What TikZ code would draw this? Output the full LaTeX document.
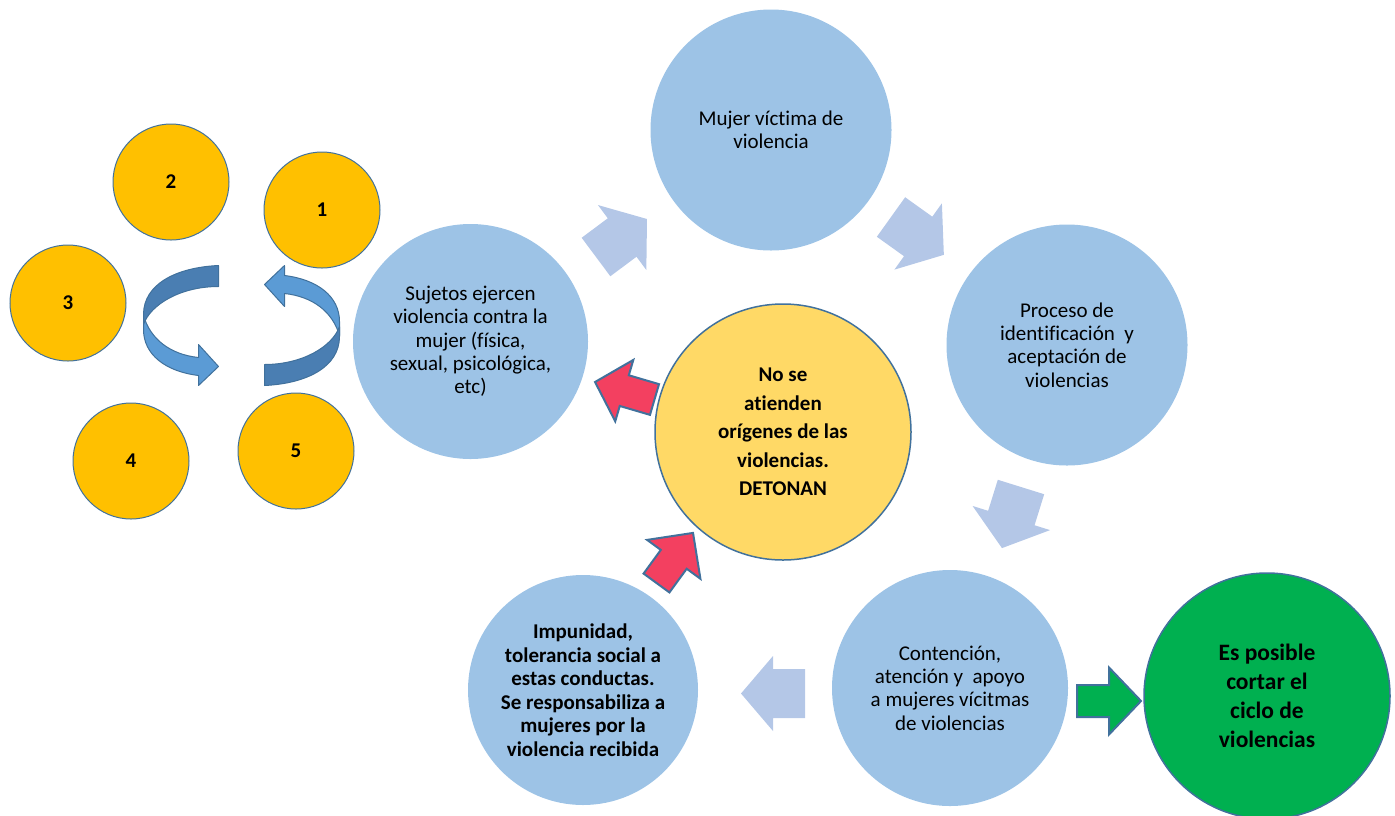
\documentclass[tikz,border=0pt]{standalone}
\usepackage{fontspec}
\setmainfont{Carlito}[Ligatures=NoCommon]
\definecolor{bubbleblue}{RGB}{157,195,230}
\definecolor{arrowblue}{RGB}{180,199,231}
\definecolor{edgeblue}{RGB}{65,113,156}
\definecolor{orangeball}{RGB}{255,192,0}
\definecolor{coreyellow}{RGB}{255,217,102}
\definecolor{exitgreen}{RGB}{0,176,80}
\definecolor{alertred}{RGB}{243,64,96}
\definecolor{twistdark}{RGB}{74,126,178}
\definecolor{twistlight}{RGB}{91,155,213}
\tikzset{
  bubble/.style={circle, fill=bubbleblue, inner sep=0pt, align=center,
    font=\fontsize{21}{23.3}\selectfont},
  boldbubble/.style={bubble, font=\fontsize{21}{23.5}\selectfont\bfseries},
  core/.style={circle, fill=coreyellow, draw=edgeblue, line width=1.5pt, inner sep=0pt,
    align=center, font=\fontsize{21}{28.5}\selectfont\bfseries},
  exit/.style={circle, fill=exitgreen, draw=edgeblue, line width=1.5pt, inner sep=0pt,
    align=center, font=\fontsize{23.5}{29}\selectfont\bfseries},
  ball/.style={circle, fill=orangeball, draw=edgeblue, line width=1pt, minimum size=116pt,
    inner sep=0pt, font=\fontsize{21}{24}\selectfont\bfseries},
  softarrow/.style={fill=arrowblue},
  redarrow/.style={fill=alertred, draw=edgeblue, line width=2pt, line join=miter},
  greenarrow/.style={fill=exitgreen, draw=edgeblue, line width=2pt, line join=miter},
  twistline/.style={draw=edgeblue, line width=1pt, line join=round},
  twist/.pic={
    \draw[twistline, fill=twistlight] (-98,-10) .. controls (-91,14) and (-71,29) .. (-43,32)
      -- (-43,19) -- (-23,41) -- (-43,60) -- (-43,50)
      .. controls (-76,46) and (-98,29) .. (-98,4) -- cycle;
    \draw[twistline, fill=twistdark] (-23,-60) .. controls (-66,-58) and (-98,-41) .. (-98,-11)
      -- (-98,-1) .. controls (-91,-21) and (-61,-39) .. (-23,-39) -- cycle;
  }
}
% style, tail, angle, length, shaft half width, head half width, head length
\newcommand{\blockarrow}[7]{%
  \path[#1, shift={#2}, rotate=#3] (0,-#5) -- ({#4-#7},-#5) -- ({#4-#7},-#6) -- (#4,0)
    -- ({#4-#7},#6) -- ({#4-#7},#5) -- (0,#5) -- cycle;}
\begin{document}
\begin{tikzpicture}[x=1pt, y=-1pt]
\useasboundingbox (0,0) rectangle (1395,815);

\node[bubble, minimum size=241pt] (victima) at (771,130) {Mujer víctima de\\violencia};
\node[bubble, minimum size=241pt] (proceso) at (1067,345) {Proceso de\\identificación\ \ y\\aceptación de\\violencias};
\node[bubble, minimum size=236pt] (contencion) at (950,688) {Contención,\\atención y\ \ apoyo\\a mujeres vícitmas\\de violencias};
\node[exit, minimum size=246pt] (cortar) at (1267,696) {Es posible\\cortar el\\ciclo de\\violencias};
\node[boldbubble, minimum size=230pt] (impunidad) at (583,690) {Impunidad,\\tolerancia social a\\estas conductas.\\Se responsabiliza a\\mujeres por la\\violencia recibida};
\node[core, minimum size=256pt] (origen) at (783,432) {No se\\atienden\\orígenes de las\\violencias.\\DETONAN};
\node[bubble, minimum size=235pt] (sujetos) at (470.5,341.5) {Sujetos ejercen\\violencia contra la\\mujer (física,\\sexual, psicológica,\\etc)};

\node[ball] (b1) at (322,210) {1};
\node[ball] (b2) at (171,182) {2};
\node[ball] (b3) at (68,303) {3};
\node[ball] (b4) at (131,461) {4};
\node[ball] (b5) at (296,451) {5};

\pic at (241.5,325.5) {twist};
\pic[rotate=180] at (241.5,325.5) {twist};

\blockarrow{softarrow}{(596,257)}{36.7}{63.6}{24}{40.5}{31}
\blockarrow{softarrow}{(891,217)}{-35.6}{65}{24.3}{40.8}{31.6}
\blockarrow{softarrow}{(1021,487)}{-107.3}{64}{24.3}{40.6}{31.5}
\blockarrow{softarrow}{(805,693.5)}{180}{64}{24.5}{37.5}{32}
\blockarrow{redarrow}{(654.5,399.5)}{163.6}{62}{16}{32}{30.5}
\blockarrow{redarrow}{(656.5,583)}{53.9}{62}{16}{33}{32.7}
\blockarrow{greenarrow}{(1077,701)}{0}{64}{16}{33.5}{32}
\end{tikzpicture}
\end{document}
